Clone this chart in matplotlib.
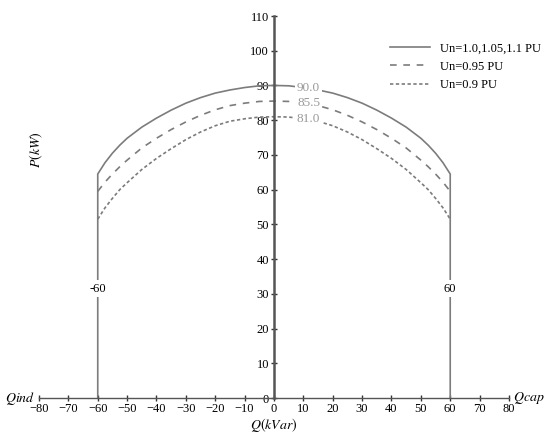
"""P-Q capability curves for different grid voltages."""
import numpy as np
import matplotlib.pyplot as plt

plt.rcParams['font.family'] = ['Liberation Serif', 'DejaVu Serif']
plt.rcParams['mathtext.fontset'] = 'stix'

# Reactive power (kVar) and active power limits (kW).
q_vals = [-60, -57.5, -55, -52.5, -50, -45, -40, -35, -30, -25, -20, -15,
          -10, -5, 0, 5, 10, 15, 20, 25, 30, 35, 40, 45, 50, 52.5, 55,
          57.5, 60]
p_nom = [64.5, 67.8, 70.5, 72.8, 74.8, 78.0, 80.6, 82.9, 84.9, 86.5, 87.8,
         88.7, 89.4, 89.9, 90.0, 89.9, 89.4, 88.7, 87.8, 86.5, 84.9, 82.9,
         80.6, 78.0, 74.8, 72.8, 70.5, 67.8, 64.5]
p_095 = [59.5, 62.2, 64.5, 66.6, 68.5, 72.0, 74.8, 77.3, 79.5, 81.4, 83.0,
         84.2, 84.9, 85.4, 85.5, 85.4, 84.9, 84.2, 83.0, 81.4, 79.5, 77.3,
         74.8, 72.0, 68.5, 66.6, 64.5, 62.2, 59.5]
p_090 = [51.5, 54.8, 57.5, 60.0, 62.0, 65.8, 69.0, 71.8, 74.4, 76.6, 78.4,
         79.7, 80.4, 80.9, 81.0, 80.9, 80.4, 79.7, 78.4, 76.6, 74.4, 71.8,
         69.0, 65.8, 62.0, 60.0, 57.5, 54.8, 51.5]
labels = ['Un=1.0,1.05,1.1 PU', 'Un=0.95 PU', 'Un=0.9 PU']
peak_labels = ['90.0', '85.5', '81.0']
q_limit = 60

fig = plt.figure(figsize=(5.5, 4.42), dpi=100)
ax = fig.add_axes([0.0709, 0.0995, 0.8545, 0.8643])

line_col = '#7c7c7c'
# Solid curve closes down to the Q limits.
q_solid = [-q_limit] + q_vals + [q_limit]
p_solid = [0] + p_nom + [0]
ax.plot(q_solid, p_solid, color=line_col, lw=1.2, label=labels[0], zorder=2)
ax.plot(q_vals, p_095, color=line_col, lw=1.2, ls=(0, (4, 4)),
        label=labels[1], zorder=2)
ax.plot(q_vals, p_090, color=line_col, lw=1.2, ls=(0, (2, 1.5)),
        label=labels[2], zorder=2)

# Peak value labels, sitting on the curves.
peaks = [max(p_nom), max(p_095), max(p_090)]
for txt, p in zip(peak_labels, peaks):
    ax.text(11.8, p - 0.6, txt, color='#9a9a9a', fontsize=9.5,
            ha='center', va='center', zorder=3,
            bbox=dict(facecolor='white', edgecolor='none', pad=1.5))

for q, txt in [(-q_limit, '-60'), (q_limit, '60')]:
    ax.text(q, 31.5, txt, color='black', fontsize=9, ha='center',
            va='center', zorder=3,
            bbox=dict(facecolor='white', edgecolor='none', pad=1.5))

ax.set_xlim(-80, 80)
ax.set_ylim(0, 110)
ax.set_xticks(np.arange(-80, 81, 10))
ax.set_yticks(np.arange(0, 111, 10))

for side in ['top', 'right']:
    ax.spines[side].set_visible(False)
ax.spines['left'].set_position(('data', 0))
ax.spines['left'].set_color('#555555')
ax.spines['left'].set_linewidth(1.8)
ax.spines['left'].set_zorder(4)
ax.spines['bottom'].set_color('#555555')
ax.spines['bottom'].set_linewidth(1.0)
ax.tick_params(axis='both', direction='inout', length=5, width=1.0,
               color='#333333', labelsize=9, pad=1)

ax.set_xlabel('$Q(kVar)$', fontsize=10, labelpad=1)
ax.text(-80.8, 71.5, '$P(kW)$', rotation=90, fontsize=10, ha='center',
        va='center')
ax.text(-81.2, 0, '$Qind$', fontsize=10, ha='right', va='center',
        clip_on=False)
ax.text(81.5, 0, '$Qcap$', fontsize=10, ha='left', va='center',
        clip_on=False)

ax.legend(loc='upper right', bbox_to_anchor=(1.092, 0.96), frameon=False,
          fontsize=9, handlelength=3.2, labelspacing=0.5)

fig.savefig('out.png', dpi=100)
